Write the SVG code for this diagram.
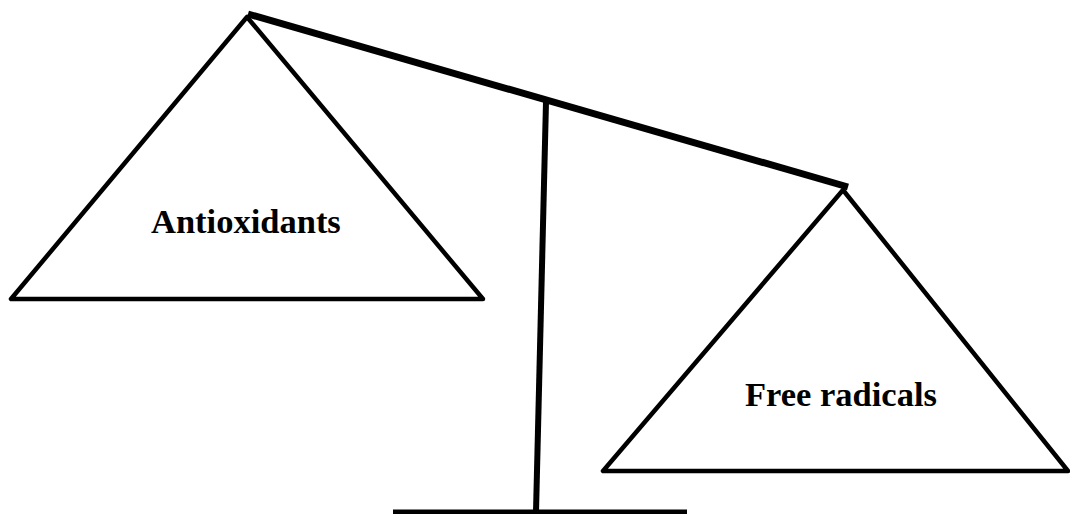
<svg xmlns="http://www.w3.org/2000/svg" width="1070" height="514" viewBox="0 0 1070 514">
<style>
.tri{fill:none;stroke:#000;stroke-width:4.5;stroke-linejoin:round;stroke-linecap:round}
.lbl{font-family:"Liberation Serif",serif;font-weight:bold;font-size:34.5px;fill:#000}
.bar{stroke:#000;fill:none}
</style>
<rect width="1070" height="514" fill="#fff"/>
<g id="connectors">
<line class="bar" x1="546" y1="102" x2="536" y2="512" stroke-width="6"/>
<line class="bar" x1="393" y1="512" x2="687" y2="512" stroke-width="5"/>
<line class="bar" x1="248" y1="14" x2="848" y2="187" stroke-width="7"/>
</g>
<g id="antioxidants">
<polygon class="tri" points="247,17 11,299 483,299"/>
<text class="lbl" x="151" y="233">Antioxidants</text>
</g>
<g id="free-radicals">
<polygon class="tri" points="843,190 603,471 1068,471"/>
<text class="lbl" x="745" y="406">Free radicals</text>
</g>
</svg>
